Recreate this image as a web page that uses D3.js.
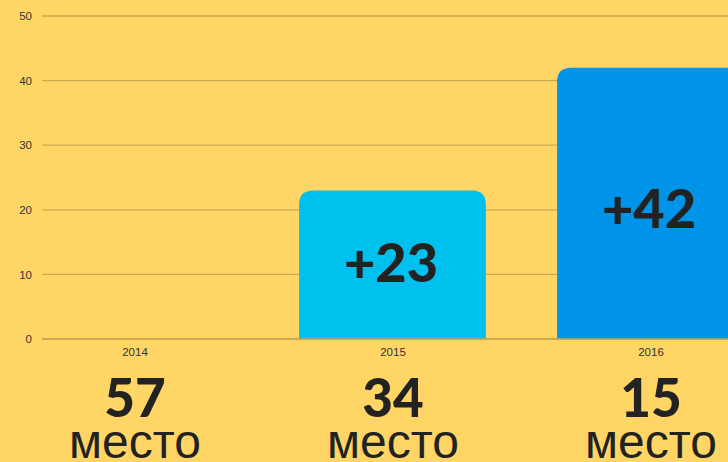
<!DOCTYPE html>
<html><head><meta charset="utf-8">
<script src="https://cdn.jsdelivr.net/npm/d3@7"></script>
<style>
html,body{margin:0;padding:0;background:#FFD666;overflow:hidden}
</style></head>
<body>
<svg id="chart" width="728" height="462"></svg>
<script>
const years = ["2014", "2015", "2016"];
const values = [0, 23, 42];
const valueLabels = ["", "+23", "+42"];
const labelAt = [0, 11.8, 20.2];
const ranks = ["57", "34", "15"];
const rankWord = "место";
const yTicks = [0, 10, 20, 30, 40, 50];
const barColors = ["#00C1EE", "#00C1EE", "#0094E8"];

const svg = d3.select("#chart");
const W = 728, H = 462;
svg.append("rect").attr("width", W).attr("height", H).attr("fill", "#FFD666");

const x = d3.scaleBand().domain(years).range([6, 780]).paddingInner(0.28).paddingOuter(0.14);
const y = d3.scaleLinear().domain([0, 50]).range([339, 16]);

// grid
const yAxis = d3.axisLeft(y).tickValues(yTicks).tickSize(0).tickPadding(10);
const gy = svg.append("g").attr("transform", "translate(42,0)").call(yAxis);
gy.select(".domain").remove();
gy.selectAll("text").attr("font-family", "Liberation Sans, Arial, sans-serif").attr("font-size", 11.5).attr("fill", "#333");
svg.append("g").selectAll("line").data(yTicks).join("line")
  .attr("x1", 42).attr("x2", W).attr("y1", d => y(d)).attr("y2", d => y(d))
  .attr("stroke", "#C9A94F").attr("stroke-width", 1.3);

// bars with rounded top
const r = 14;
function barPath(x0, w, yTop, yBase) {
  const rr = Math.min(r, (yBase - yTop), w / 2);
  return `M${x0},${yBase}V${yTop + rr}Q${x0},${yTop} ${x0 + rr},${yTop}H${x0 + w - rr}Q${x0 + w},${yTop} ${x0 + w},${yTop + rr}V${yBase}Z`;
}
const data = years.map((yr, i) => ({yr, v: values[i], lab: valueLabels[i], at: labelAt[i], rank: ranks[i], c: barColors[i]}));
svg.append("g").selectAll("path").data(data.filter(d => d.v > 0)).join("path")
  .attr("d", d => barPath(x(d.yr) - 1, x.bandwidth() + 1, y(d.v), y(0)))
  .attr("fill", d => d.c);

// baseline over bars
svg.append("line").attr("x1", 42).attr("x2", W).attr("y1", y(0)).attr("y2", y(0))
  .attr("stroke", "#C9A94F").attr("stroke-width", 1.3);

// value labels
svg.append("g").selectAll("text").data(data.filter(d => d.v > 0)).join("text")
  .attr("x", d => x(d.yr) + x.bandwidth() / 2 - 2)
  .attr("y", d => y(d.at))
  .attr("dy", "0.36em")
  .attr("text-anchor", "middle")
  .attr("font-family", "Lato, sans-serif").attr("font-weight", 900).attr("font-size", 54)
  .attr("fill", "#222").text(d => d.lab);

// x axis labels
const xAxis = d3.axisBottom(x).tickSize(0).tickPadding(9);
const gx = svg.append("g").attr("transform", `translate(0,${y(0)})`).call(xAxis);
gx.select(".domain").remove();
gx.selectAll("text").attr("font-family", "Liberation Sans, Arial, sans-serif").attr("font-size", 11.5).attr("fill", "#333");

// ranks
const gr = svg.append("g").selectAll("g").data(data).join("g")
  .attr("transform", d => `translate(${x(d.yr) + x.bandwidth() / 2},0)`);
gr.append("text").attr("y", 417).attr("text-anchor", "middle")
  .attr("font-family", "Lato, sans-serif").attr("font-weight", 900).attr("font-size", 53)
  .attr("fill", "#222").text(d => d.rank);
gr.append("text").attr("y", 458).attr("text-anchor", "middle")
  .attr("font-family", "Liberation Sans, Arial, sans-serif").attr("font-size", 48)
  .attr("fill", "#222").text(rankWord);
</script>
</body></html>
